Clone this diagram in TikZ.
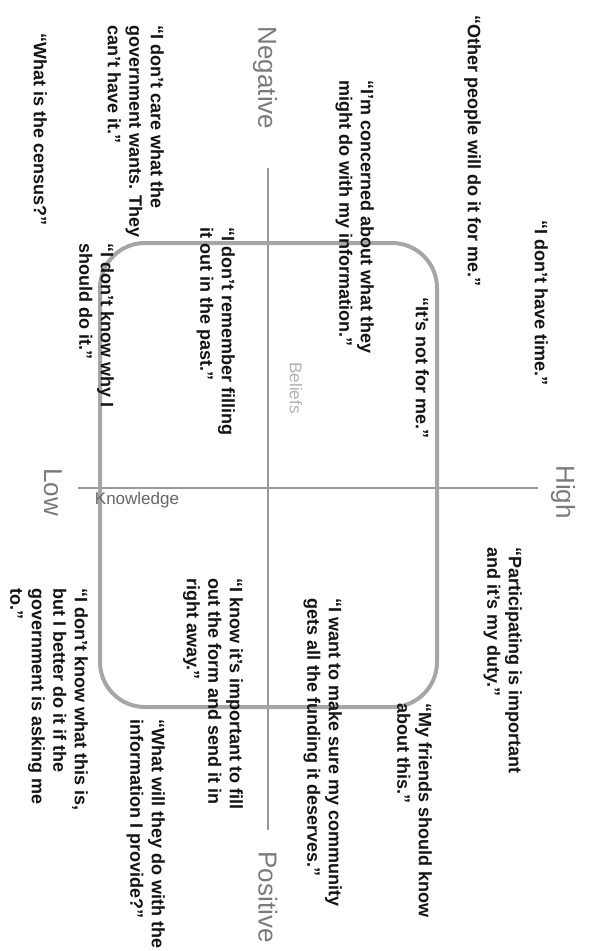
\documentclass[tikz,border=0pt]{standalone}
\usepackage{fontspec}
\setmainfont{Liberation Sans}
\usetikzlibrary{positioning}

\begin{document}
\begin{tikzpicture}[x=1pt, y=-1pt,
  quote/.style={rotate=-90, anchor=north west, inner sep=0pt, align=left, font=\fontsize{18}{21.5}\selectfont\bfseries, text=black!92},
  axislabel/.style={rotate=-90, inner sep=0pt, font=\fontsize{26}{26}\selectfont, text=black!52},
  dimlabel/.style={inner sep=0pt, font=\fontsize{17}{17}\selectfont, text=black!60},
  axisline/.style={draw=black!40, line width=1.2pt},
  beliefbox/.style={draw=black!35, line width=4pt, rounded corners=45pt}]
\fill [white] (0,0) rectangle (589,951);
\useasboundingbox (0,0) rectangle (589,951);

% the two axes and the box
\coordinate (vtop) at (268,168);
\coordinate (vbot) at (268,830);
\coordinate (hleft) at (78,488);
\coordinate (hright) at (538,488);
\draw [axisline] (vtop) -- (vbot);
\draw [axisline] (hleft) -- (hright);
\draw [beliefbox] (100,243) rectangle (437,707);

\node [axislabel] (neg) at (265,78) {Negative};
\node [axislabel] (pos) at (268,897) {Positive};
\node [axislabel] (high) at (563,492) {High};
\node [axislabel] (low) at (53,492) {Low};

\node [dimlabel, rotate=-90, text=black!30] (beliefs) at (296,388) {Beliefs};
\node [dimlabel] (knowledge) at (137,500) {Knowledge};

% quotes, upper half
\node [quote] (qother) at (481,15) {“Other people will do it for me.”};
\node [quote] (qtime) at (548,220) {“I don’t have time.”};
\node [quote] (qconcern) at (374,80) {“I’m concerned about what they\\might do with my information.”};
\node [quote] (qnotme) at (429,297) {“It’s not for me.”};
\node [quote] (qcare) at (164,25) {“I don’t care what the\\government wants. They\\can’t have it.”};
\node [quote] (qcensus) at (47,33) {“What is the census?”};
\node [quote] (qremember) at (235,227) {“I don’t remember filling\\it out in the past.”};
\node [quote] (qwhy) at (114,243) {“I don’t know why I\\should do it.”};

% quotes, lower half
\node [quote] (qduty) at (522,547) {“Participating is important\\and it’s my duty.”};
\node [quote] (qcommunity) at (342,598) {“I want to make sure my community\\gets all the funding it deserves.”};
\node [quote] (qfriends) at (432,703) {“My friends should know\\about this.”};
\node [quote] (qknow) at (243,578) {“I know it’s important to fill\\out the form and send it in\\right away.”};
\node [quote] (qprovide) at (165,719) {“What will they do with the\\information I provide?”};
\node [quote] (qasking) at (88,588) {“I don’t know what this is,\\but I better do it if the\\government is asking me\\to.”};

\end{tikzpicture}
\end{document}
